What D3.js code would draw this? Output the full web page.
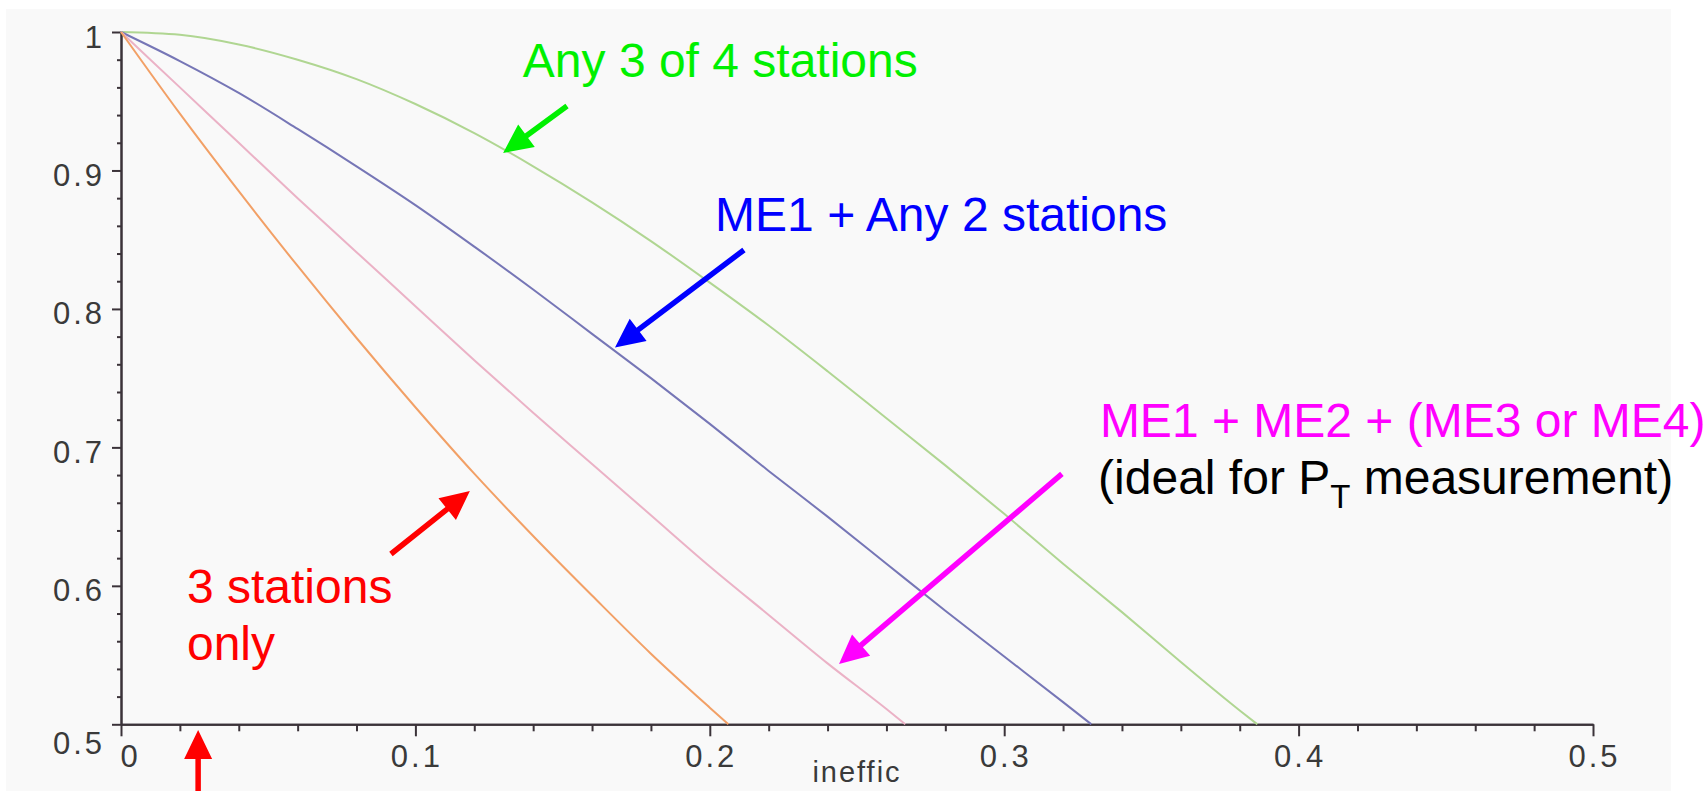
<!DOCTYPE html>
<html>
<head>
<meta charset="utf-8">
<script src="https://cdn.jsdelivr.net/npm/d3@7"></script>
<style>
  html, body { margin: 0; padding: 0; background: #ffffff; }
  svg { display: block; }
</style>
</head>
<body>
<svg id="chart" width="1707" height="791"></svg>
<script>
// Efficiency vs. per-station inefficiency for several station-coincidence requirements

// inefficiency sampling (x values) and efficiency (y values) per requirement
const ineffAny3of4 = [0, 0.02, 0.04, 0.06, 0.08, 0.10, 0.12, 0.14, 0.16, 0.18, 0.20, 0.22, 0.24, 0.26, 0.28, 0.30, 0.32, 0.34, 0.36, 0.38, 0.386];
const effAny3of4   = [1, 0.998, 0.991, 0.980, 0.966, 0.948, 0.927, 0.903, 0.877, 0.849, 0.819, 0.788, 0.755, 0.721, 0.687, 0.652, 0.616, 0.581, 0.545, 0.510, 0.5];

const ineffME1Any2 = [0, 0.02, 0.04, 0.06, 0.08, 0.10, 0.12, 0.14, 0.16, 0.18, 0.20, 0.22, 0.24, 0.26, 0.28, 0.30, 0.32, 0.3296];
const effME1Any2   = [1, 0.979, 0.956, 0.930, 0.903, 0.875, 0.845, 0.814, 0.782, 0.750, 0.717, 0.683, 0.650, 0.616, 0.582, 0.549, 0.516, 0.5];

const ineffME1ME2 = [0, 0.02, 0.04, 0.06, 0.08, 0.10, 0.12, 0.14, 0.16, 0.18, 0.20, 0.22, 0.24, 0.26, 0.2664];
const effME1ME2   = [1, 0.960, 0.920, 0.880, 0.841, 0.802, 0.763, 0.725, 0.688, 0.651, 0.614, 0.579, 0.544, 0.511, 0.5];

const ineff3Only = [0, 0.02, 0.04, 0.06, 0.08, 0.10, 0.12, 0.14, 0.16, 0.18, 0.20, 0.2063];
const eff3Only   = [1, 0.941, 0.885, 0.831, 0.779, 0.729, 0.681, 0.636, 0.593, 0.551, 0.512, 0.5];

const seriesNames  = ["Any 3 of 4 stations", "ME1 + Any 2 stations", "ME1 + ME2 + (ME3 or ME4)", "3 stations only"];
const seriesColors = ["#b0d692", "#7676b6", "#ebb2c6", "#f2a066"];

const xMajorTicks = [0, 0.1, 0.2, 0.3, 0.4, 0.5];
const xTickLabels = ["0", "0.1", "0.2", "0.3", "0.4", "0.5"];
const yMajorTicks = [0.5, 0.6, 0.7, 0.8, 0.9, 1];
const yTickLabels = ["0.5", "0.6", "0.7", "0.8", "0.9", "1"];
const minorStep = 0.02;
const xAxisTitle = "ineffic";

// annotation arrows: [tailX, tailY, tipX, tipY] in data units
const arrowGreen   = [0.1515, 0.9466, 0.1298, 0.9126];
const arrowBlue    = [0.2116, 0.8426, 0.1678, 0.7722];
const arrowMagenta = [0.3196, 0.6808, 0.2439, 0.5436];
const arrowRed     = [0.0917, 0.6230, 0.1185, 0.6685];
const arrowRedLow  = [0.0262, 0.4440, 0.0262, 0.4959];

// ---------------------------------------------------------------
const svg = d3.select("#chart");
const W = 1707, H = 791;

const x = d3.scaleLinear().domain([0, 0.5]).range([121, 1593]);
const y = d3.scaleLinear().domain([0.5, 1]).range([724.3, 32]);

// plot backdrop
svg.append("rect").attr("x", 6).attr("y", 9).attr("width", 1665).attr("height", H - 9)
  .attr("fill", "#f9f9f9");

const axisColor = "#3b3339";
const tickFont = "'Liberation Sans', Arial, sans-serif";

const minorValues = d3.range(0, 25 + 1).map(i => +(i * minorStep).toFixed(2))
  .filter(v => !xMajorTicks.some(m => Math.abs(m - v) < 1e-9));
const minorY = d3.range(0, 25 + 1).map(i => +(0.5 + i * minorStep).toFixed(2))
  .filter(v => !yMajorTicks.some(m => Math.abs(m - v) < 1e-9));

function styleAxis(g) {
  g.select(".domain").attr("stroke", axisColor).attr("stroke-width", 2);
  g.selectAll(".tick line").attr("stroke", axisColor).attr("stroke-width", 2);
}

// minor ticks
svg.append("g").attr("transform", `translate(0,${y(0.5)})`)
  .call(d3.axisBottom(x).tickValues(minorValues).tickSize(7).tickSizeOuter(0).tickFormat(""))
  .call(styleAxis);
svg.append("g").attr("transform", `translate(${x(0)},0)`)
  .call(d3.axisLeft(y).tickValues(minorY).tickSize(4).tickSizeOuter(0).tickFormat(""))
  .call(styleAxis);

// major x axis
const gx = svg.append("g").attr("transform", `translate(0,${y(0.5)})`)
  .call(d3.axisBottom(x).tickValues(xMajorTicks).tickSize(12).tickSizeOuter(0)
    .tickFormat((d, i) => xTickLabels[i]))
  .call(styleAxis);
gx.selectAll(".tick text")
  .attr("y", 43).attr("dy", null)
  .attr("x", (d, i) => i === 0 ? 9 : 1)
  .attr("fill", "#3a3a3a").attr("font-family", tickFont).attr("font-size", 31)
  .attr("letter-spacing", 3);

// major y axis
const gy = svg.append("g").attr("transform", `translate(${x(0)},0)`)
  .call(d3.axisLeft(y).tickValues(yMajorTicks).tickSize(9).tickSizeOuter(0)
    .tickFormat((d, i) => yTickLabels[i]))
  .call(styleAxis);
gy.selectAll(".tick text")
  .attr("x", -16).attr("dy", null)
  .attr("y", (d, i) => i === 0 ? 29 : 15)
  .attr("fill", "#3a3a3a").attr("font-family", tickFont).attr("font-size", 31)
  .attr("letter-spacing", 3);

svg.append("text").attr("x", 857).attr("y", 782).attr("text-anchor", "middle")
  .attr("fill", "#3a3a3a").attr("font-family", tickFont).attr("font-size", 29)
  .attr("letter-spacing", 2).text(xAxisTitle);

// curves
const seriesX = [ineffAny3of4, ineffME1Any2, ineffME1ME2, ineff3Only];
const seriesY = [effAny3of4, effME1Any2, effME1ME2, eff3Only];
const line = d3.line().x(d => x(d[0])).y(d => y(d[1])).curve(d3.curveMonotoneX);

seriesNames.forEach((name, k) => {
  const pts = seriesX[k].map((v, i) => [v, seriesY[k][i]]);
  svg.append("path").datum(pts)
    .attr("fill", "none")
    .attr("stroke", seriesColors[k])
    .attr("stroke-width", 2)
    .attr("d", line)
    .append("title").text(name);
});

// arrows
function arrow(a, color) {
  const x0 = x(a[0]), y0 = y(a[1]), x1 = x(a[2]), y1 = y(a[3]);
  const dx = x1 - x0, dy = y1 - y0, len = Math.hypot(dx, dy);
  const ux = dx / len, uy = dy / len, nx = -uy, ny = ux;
  const headL = 29, headW = 14, shaftW = 5.5;
  const bx = x1 - ux * headL, by = y1 - uy * headL;
  const p = [
    [x0 + nx * shaftW / 2, y0 + ny * shaftW / 2],
    [bx + nx * shaftW / 2, by + ny * shaftW / 2],
    [bx + nx * headW, by + ny * headW],
    [x1, y1],
    [bx - nx * headW, by - ny * headW],
    [bx - nx * shaftW / 2, by - ny * shaftW / 2],
    [x0 - nx * shaftW / 2, y0 - ny * shaftW / 2]
  ];
  svg.append("path").attr("d", "M" + p.map(q => q.join(",")).join("L") + "Z")
    .attr("fill", color);
}
arrow(arrowGreen, "#00f000");
arrow(arrowBlue, "#0000ff");
arrow(arrowMagenta, "#ff00ff");
arrow(arrowRed, "#ff0000");
arrow(arrowRedLow, "#ff0000");

// annotation labels
const labFont = "'Liberation Sans', Arial, sans-serif";
function label(xv, yv, color, txt) {
  return svg.append("text").attr("x", x(xv)).attr("y", y(yv))
    .attr("fill", color).attr("font-family", labFont).attr("font-size", 48).text(txt);
}
label(0.1365, 0.9675, "#00f000", "Any 3 of 4 stations");
label(0.2018, 0.8563, "#0000ff", "ME1 + Any 2 stations");
label(0.3325, 0.7075, "#ff00ff", "ME1 + ME2 + (ME3 or ME4)");

const pt = svg.append("text").attr("x", x(0.3319)).attr("y", y(0.6663))
  .attr("fill", "#000000").attr("font-family", labFont).attr("font-size", 48);
pt.append("tspan").text("(ideal for P");
pt.append("tspan").attr("font-size", 33).attr("dy", 14).text("T");
pt.append("tspan").attr("dy", -14).text(" measurement)");

const red = svg.append("text").attr("x", x(0.0224)).attr("y", y(0.5876))
  .attr("fill", "#ff0000").attr("font-family", labFont).attr("font-size", 48);
red.append("tspan").attr("x", x(0.0224)).text("3 stations");
red.append("tspan").attr("x", x(0.0224)).attr("dy", 57).text("only");
</script>
</body>
</html>
